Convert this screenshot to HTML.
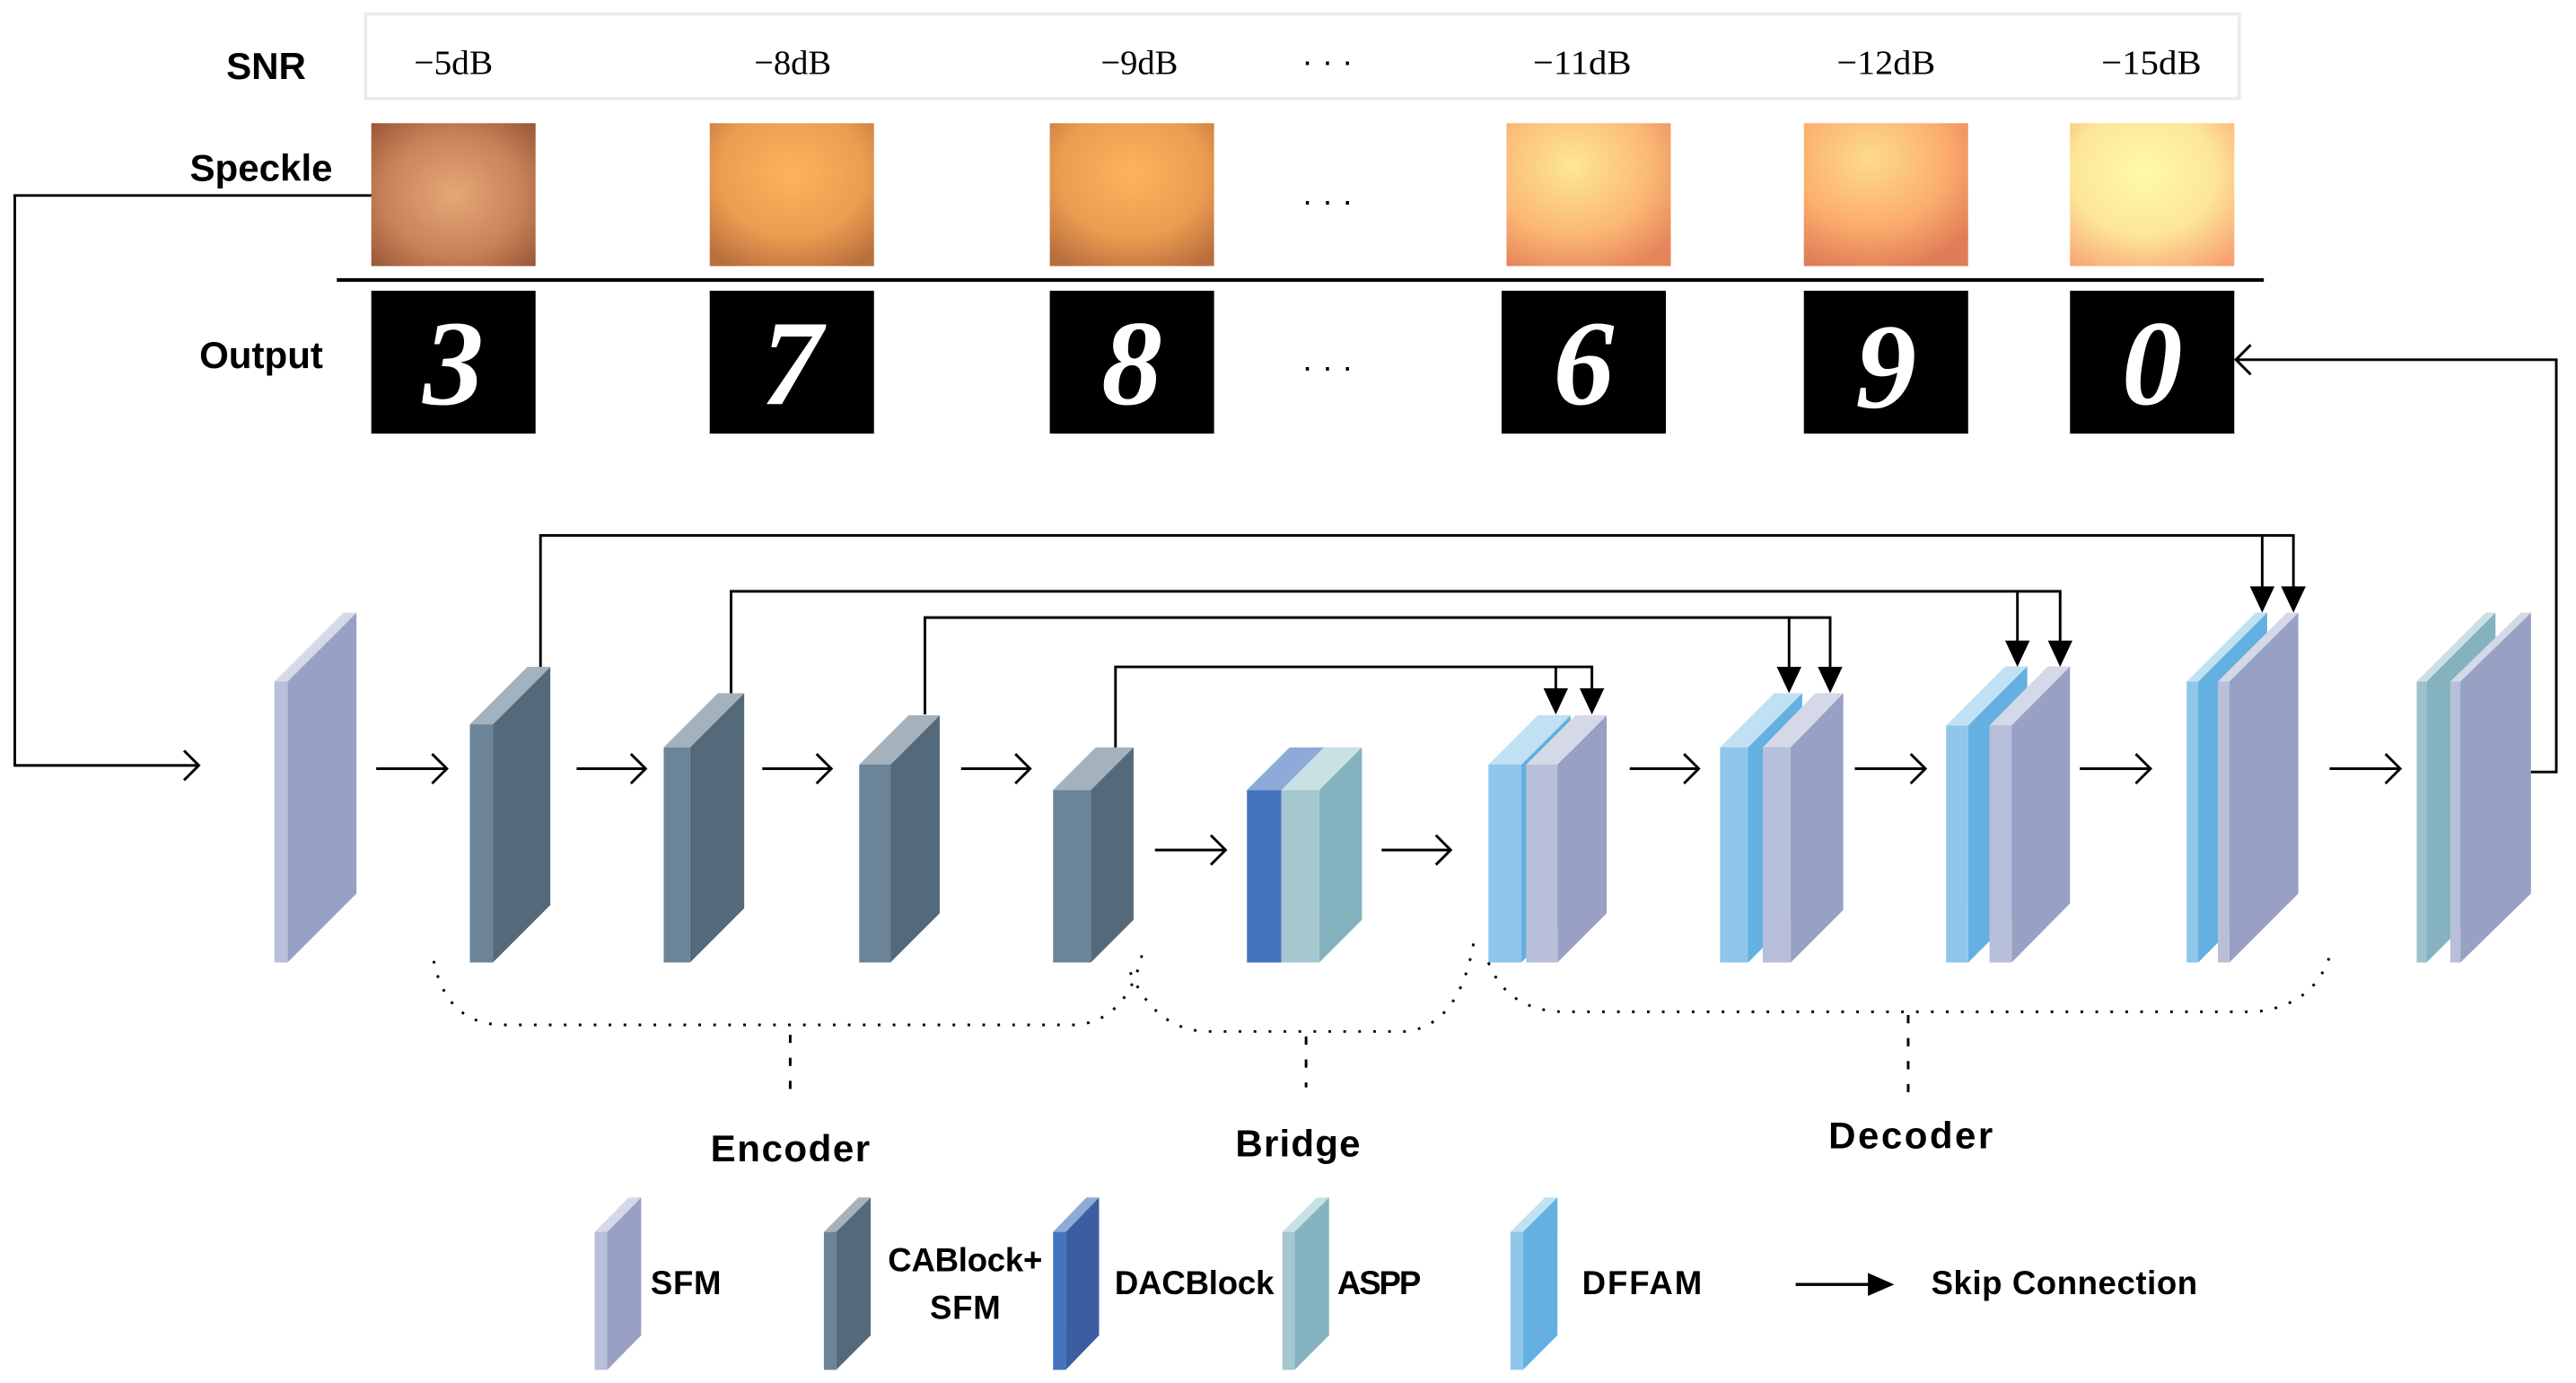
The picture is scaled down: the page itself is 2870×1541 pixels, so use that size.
<!DOCTYPE html>
<html><head><meta charset="utf-8"><style>
html,body{margin:0;padding:0;background:#fff;}
svg{display:block;}
text{font-family:"Liberation Sans",sans-serif;}
.lab{font-weight:bold;font-size:23px;fill:#000;}
.db text{font-family:"Liberation Serif",serif;font-size:21px;fill:#000;}
.dig text{font-family:"Liberation Serif",serif;font-style:italic;font-weight:bold;font-size:74px;fill:#fff;}
</style></head><body>
<svg width="2870" height="1541" viewBox="0 0 1568 842" preserveAspectRatio="none" xmlns="http://www.w3.org/2000/svg">
<defs>
<radialGradient id="g5" cx="50%" cy="50%" r="70%"><stop offset="0" stop-color="#e4a878"/><stop offset="0.6" stop-color="#c98258"/><stop offset="1" stop-color="#9a5638"/></radialGradient>
<radialGradient id="g8" cx="50%" cy="35%" r="75%"><stop offset="0" stop-color="#fdb45c"/><stop offset="0.6" stop-color="#eb9c50"/><stop offset="1" stop-color="#b86e3e"/></radialGradient>
<radialGradient id="g11" cx="40%" cy="30%" r="80%"><stop offset="0" stop-color="#fde894"/><stop offset="0.6" stop-color="#fbb874"/><stop offset="1" stop-color="#e6845a"/></radialGradient>
<radialGradient id="g12" cx="40%" cy="25%" r="80%"><stop offset="0" stop-color="#fddc8c"/><stop offset="0.6" stop-color="#fbac6c"/><stop offset="1" stop-color="#e07c58"/></radialGradient>
<radialGradient id="g15" cx="45%" cy="35%" r="80%"><stop offset="0" stop-color="#fefba6"/><stop offset="0.55" stop-color="#fde598"/><stop offset="1" stop-color="#f7a070"/></radialGradient>
</defs>

<rect x="222.5" y="8.5" width="1140.5" height="51.5" fill="none" stroke="#e8ecf2" stroke-width="2"/>
<text class="lab" x="162" y="48" text-anchor="middle">SNR</text>
<text class="lab" x="159" y="110" text-anchor="middle">Speckle</text>
<text class="lab" x="159" y="224" text-anchor="middle">Output</text>
<g class="db">
<text x="252" y="45" textLength="48" lengthAdjust="spacingAndGlyphs">−5dB</text>
<text x="459" y="45" textLength="47" lengthAdjust="spacingAndGlyphs">−8dB</text>
<text x="670" y="45" textLength="47" lengthAdjust="spacingAndGlyphs">−9dB</text>
<text x="933" y="45" textLength="60" lengthAdjust="spacingAndGlyphs">−11dB</text>
<text x="1118" y="45" textLength="60" lengthAdjust="spacingAndGlyphs">−12dB</text>
<text x="1279" y="45" textLength="61" lengthAdjust="spacingAndGlyphs">−15dB</text>
</g>
<text x="808" y="44" font-size="20" text-anchor="middle">· · ·</text>
<text x="808" y="129" font-size="20" text-anchor="middle">· · ·</text>
<text x="808" y="230" font-size="20" text-anchor="middle">· · ·</text>

<rect x="226" y="75" width="100" height="87" fill="url(#g5)"/>
<rect x="432" y="75" width="100" height="87" fill="url(#g8)"/>
<rect x="639" y="75" width="100" height="87" fill="url(#g8)"/>
<rect x="917" y="75" width="100" height="87" fill="url(#g11)"/>
<rect x="1098" y="75" width="100" height="87" fill="url(#g12)"/>
<rect x="1260" y="75" width="100" height="87" fill="url(#g15)"/>
<line x1="205" y1="170.5" x2="1378" y2="170.5" stroke="#000" stroke-width="2.2"/>

<rect x="226" y="177" width="100" height="87" fill="#000"/>
<rect x="432" y="177" width="100" height="87" fill="#000"/>
<rect x="639" y="177" width="100" height="87" fill="#000"/>
<rect x="914" y="177" width="100" height="87" fill="#000"/>
<rect x="1098" y="177" width="100" height="87" fill="#000"/>
<rect x="1260" y="177" width="100" height="87" fill="#000"/>
<g class="dig" text-anchor="middle">
<text x="276" y="246">3</text>
<text x="482" y="246">7</text>
<text x="689" y="246">8</text>
<text x="964" y="246">6</text>
<text x="1148" y="248">9</text>
<text x="1310" y="246">0</text>
</g>

<g fill="none" stroke="#000" stroke-width="1.6">
<polyline points="226,119 9,119 9,466 121,466"/>
<polyline points="112,457 121,466 112,475"/>
<polyline points="1540,470 1556,470 1556,219 1361,219"/>
<polyline points="1370,210 1361,219 1370,228"/>
</g>

<g>
<polygon points="175,415 217,373 217,544 175,586" fill="#98a1c3"/>
<polygon points="167,415 175,415 217,373 209,373" fill="#d5d8e6"/>
<rect x="167" y="415" width="8" height="171" fill="#b8bfda"/>
<polygon points="300,441 335,406 335,551 300,586" fill="#546a7b"/>
<polygon points="286,441 300,441 335,406 321,406" fill="#a4b2bd"/>
<rect x="286" y="441" width="14" height="145" fill="#6b8498"/>
<polygon points="420,455 453,422 453,553 420,586" fill="#546a7b"/>
<polygon points="404,455 420,455 453,422 437,422" fill="#a4b2bd"/>
<rect x="404" y="455" width="16" height="131" fill="#6b8498"/>
<polygon points="542,465.5 572,435.5 572,556 542,586" fill="#546a7b"/>
<polygon points="523,465.5 542,465.5 572,435.5 553,435.5" fill="#a4b2bd"/>
<rect x="523" y="465.5" width="19" height="120.5" fill="#6b8498"/>
<polygon points="664,481 690,455 690,560 664,586" fill="#546a7b"/>
<polygon points="641,481 664,481 690,455 667,455" fill="#a4b2bd"/>
<rect x="641" y="481" width="23" height="105" fill="#6b8498"/>
<polygon points="759,481 780,481 806,455 785,455" fill="#8eaad8"/>
<rect x="759" y="481" width="21" height="105" fill="#4673be"/>
<polygon points="803,481 829,455 829,560 803,586" fill="#84b3bf"/>
<polygon points="780,481 803,481 829,455 806,455" fill="#c9e0e4"/>
<rect x="780" y="481" width="23" height="105" fill="#a5c7d0"/>

<polygon points="926,465.5 956,435.5 956,556 926,586" fill="#64b0e0"/>
<polygon points="906,465.5 926,465.5 956,435.5 936,435.5" fill="#c0e0f3"/>
<rect x="906" y="465.5" width="20" height="120.5" fill="#8fc6ea"/>
<polygon points="948,465.5 978,435.5 978,556 948,586" fill="#98a1c3"/>
<polygon points="929,465.5 948,465.5 978,435.5 959,435.5" fill="#d5d9e7"/>
<rect x="929" y="465.5" width="19" height="120.5" fill="#b8bfda"/>
<polygon points="1064,455 1097,422 1097,553 1064,586" fill="#64b0e0"/>
<polygon points="1047,455 1064,455 1097,422 1080,422" fill="#c0e0f3"/>
<rect x="1047" y="455" width="17" height="131" fill="#8fc6ea"/>
<polygon points="1090,455 1122,422 1122,554 1090,586" fill="#98a1c3"/>
<polygon points="1073,455 1090,455 1122,422 1105,422" fill="#d5d9e7"/>
<rect x="1073" y="455" width="17" height="131" fill="#b8bfda"/>
<polygon points="1198,441.7 1234,405.7 1234,550 1198,586" fill="#64b0e0"/>
<polygon points="1184.6,441.7 1198,441.7 1234,405.7 1220.6,405.7" fill="#c0e0f3"/>
<rect x="1184.6" y="441.7" width="13.4" height="144.3" fill="#8fc6ea"/>
<polygon points="1224.5,441.7 1260,405.7 1260,550 1224.5,586" fill="#98a1c3"/>
<polygon points="1211,441.7 1224.5,441.7 1260,405.7 1246.5,405.7" fill="#d5d9e7"/>
<rect x="1211" y="441.7" width="13.5" height="144.3" fill="#b8bfda"/>
<polygon points="1338,415 1380,373 1380,544 1338,586" fill="#64b0e0"/>
<polygon points="1331,415 1338,415 1380,373 1373,373" fill="#c0e0f3"/>
<rect x="1331" y="415" width="7" height="171" fill="#8fc6ea"/>
<polygon points="1357,415 1399,373 1399,544 1357,586" fill="#98a1c3"/>
<polygon points="1350,415 1357,415 1399,373 1392,373" fill="#d5d9e7"/>
<rect x="1350" y="415" width="7" height="171" fill="#b8bfda"/>
<polygon points="1477,415 1519,373 1519,544 1477,586" fill="#84b3bf"/>
<polygon points="1471,415 1477,415 1519,373 1513,373" fill="#c9e0e4"/>
<rect x="1471" y="415" width="6" height="171" fill="#9cc3cb"/>
<polygon points="1497.6,415 1540.6,373 1540.6,544 1497.6,586" fill="#98a1c3"/>
<polygon points="1491.5,415 1497.6,415 1540.6,373 1534.5,373" fill="#d5d9e7"/>
<rect x="1491.5" y="415" width="6.1" height="171" fill="#b8bfda"/>
</g>

<g fill="none" stroke="#000" stroke-width="1.6">
<path d="M229,468 H272 M263,459 L272,468 L263,477"/>
<path d="M351,468 H393 M384,459 L393,468 L384,477"/>
<path d="M464,468 H506 M497,459 L506,468 L497,477"/>
<path d="M585,468 H627 M618,459 L627,468 L618,477"/>
<path d="M703,517.5 H746 M737,508.5 L746,517.5 L737,526.5"/>
<path d="M841,517.5 H883 M874,508.5 L883,517.5 L874,526.5"/>
<path d="M992,468 H1034 M1025,459 L1034,468 L1025,477"/>
<path d="M1129,468 H1172 M1163,459 L1172,468 L1163,477"/>
<path d="M1266,468 H1309 M1300,459 L1309,468 L1300,477"/>
<path d="M1418,468 H1461 M1452,459 L1461,468 L1452,477"/>
</g>

<g fill="none" stroke="#000" stroke-width="1.6">
<polyline points="329,406 329,326 1396,326 1396,360"/>
<line x1="1377" y1="326" x2="1377" y2="360"/>
<polyline points="445,422 445,360 1254,360 1254,392"/>
<line x1="1228" y1="360" x2="1228" y2="392"/>
<polyline points="563,435 563,376 1114,376 1114,409"/>
<line x1="1089" y1="376" x2="1089" y2="409"/>
<polyline points="679,455 679,406 969,406 969,422"/>
<line x1="947" y1="406" x2="947" y2="422"/>
</g>
<g fill="#000">
<polygon points="1369.5,357 1384.5,357 1377,373"/>
<polygon points="1388.5,357 1403.5,357 1396,373"/>
<polygon points="1220.5,390 1235.5,390 1228,406"/>
<polygon points="1246.5,390 1261.5,390 1254,406"/>
<polygon points="1081.5,406 1096.5,406 1089,422"/>
<polygon points="1106.5,406 1121.5,406 1114,422"/>
<polygon points="939.5,419 954.5,419 947,435"/>
<polygon points="961.5,419 976.5,419 969,435"/>
</g>

<g fill="none" stroke="#000" stroke-width="1.6" stroke-dasharray="1.6 7.5">
<path d="M264,585 Q272,624 307,624 H656 Q688,620 696,577"/>
<path d="M688,592 Q704,628 736,628 H855 Q888,625 897,574"/>
<path d="M906,586 Q918,616 953,616 H1373 Q1410,612 1419,579"/>
</g>
<g stroke="#000" stroke-width="1.6" stroke-dasharray="5 9">
<line x1="481" y1="630" x2="481" y2="666"/>
<line x1="795" y1="631" x2="795" y2="662"/>
<line x1="1161.5" y1="618" x2="1161.5" y2="667"/>
</g>
<text class="lab" x="481" y="707" text-anchor="middle" textLength="97">Encoder</text>
<text class="lab" x="790" y="704" text-anchor="middle" textLength="76">Bridge</text>
<text class="lab" x="1163" y="699" text-anchor="middle" textLength="100">Decoder</text>

<g>
<polygon points="369.6,750 390.3,729 390.3,813 369.6,834" fill="#98a1c3"/>
<polygon points="362,750 369.6,750 390.3,729 382.7,729" fill="#d5d8e6"/>
<rect x="362" y="750" width="7.6" height="84" fill="#b8bfda"/>
<polygon points="509,750 530,729 530,813 509,834" fill="#546a7b"/>
<polygon points="501.5,750 509,750 530,729 522.5,729" fill="#a4b2bd"/>
<rect x="501.5" y="750" width="7.5" height="84" fill="#6b8498"/>
<polygon points="648.7,750 669,729 669,813 648.7,834" fill="#3b5ea0"/>
<polygon points="641,750 648.7,750 669,729 661.3,729" fill="#8eaad8"/>
<rect x="641" y="750" width="7.7" height="84" fill="#4673be"/>
<polygon points="788,750 809,729 809,813 788,834" fill="#84b3bf"/>
<polygon points="780.6,750 788,750 809,729 801.6,729" fill="#c9e0e4"/>
<rect x="780.6" y="750" width="7.4" height="84" fill="#a5c7d0"/>
<polygon points="927,750 948,729 948,813 927,834" fill="#64b0e0"/>
<polygon points="919.4,750 927,750 948,729 940.4,729" fill="#c0e0f3"/>
<rect x="919.4" y="750" width="7.6" height="84" fill="#8fc6ea"/>
</g>
<g font-weight="bold" font-size="20" fill="#000">
<text x="396" y="788" textLength="43">SFM</text>
<text x="540.5" y="774" textLength="94">CABlock+</text>
<text x="566" y="803" textLength="43">SFM</text>
<text x="678.5" y="788" textLength="97">DACBlock</text>
<text x="814" y="788" textLength="51">ASPP</text>
<text x="963" y="788" textLength="73">DFFAM</text>
<text x="1175.5" y="788" textLength="162">Skip Connection</text>
</g>
<line x1="1093" y1="782" x2="1140" y2="782" stroke="#000" stroke-width="1.8"/>
<polygon points="1137,775 1153,782 1137,789" fill="#000"/>
</svg>
</body></html>
